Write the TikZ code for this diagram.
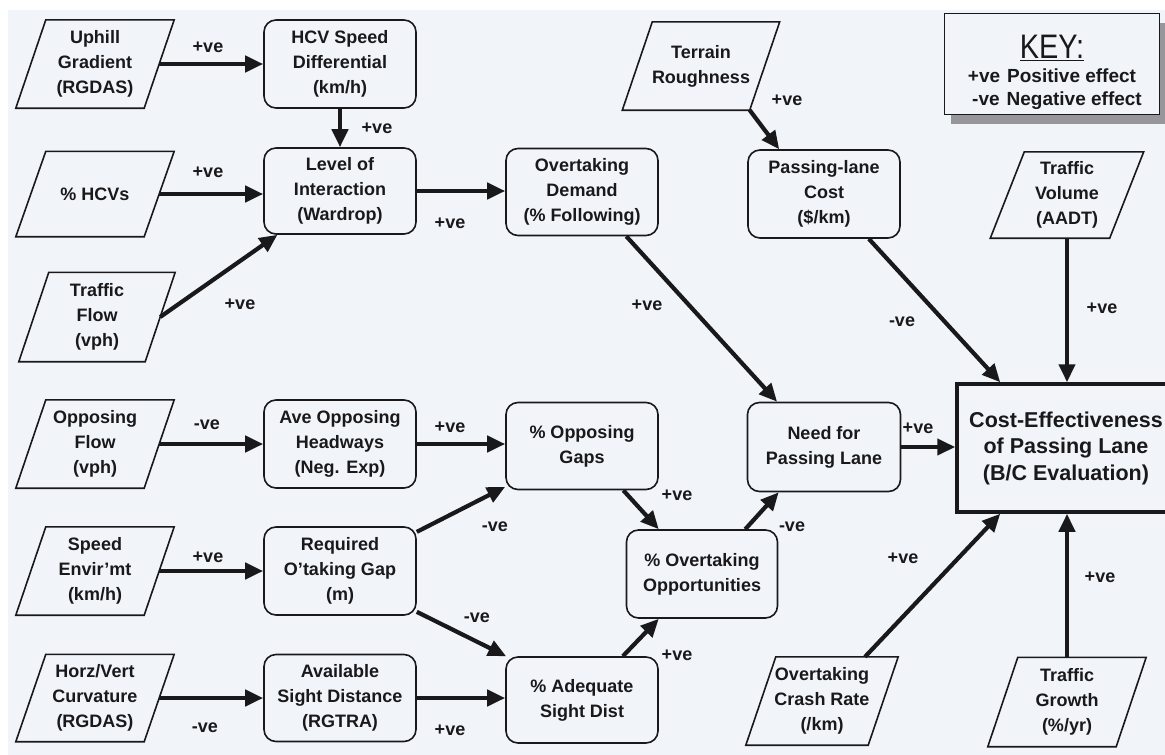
\documentclass[tikz,border=0pt]{standalone}
\usepackage{fontspec}
\usepackage{graphicx}
\setmainfont{Liberation Sans}
\usetikzlibrary{arrows.meta,calc,shadows}
\definecolor{bgc}{RGB}{241,245,249}
\definecolor{inkc}{RGB}{25,25,28}
\definecolor{shadc}{RGB}{150,150,155}
\newcommand\bxfont{\bfseries\fontsize{18}{25}\selectfont}
\newcommand\bigbxfont{\bfseries\fontsize{21.5}{26.5}\selectfont}
\newcommand\parag[2][15]{\draw[pline] ($(#2.south west)+(-#1,0)$) -- ($(#2.north west)+(#1,0)$) -- ($(#2.north east)+(#1,0)$) -- ($(#2.south east)+(-#1,0)$) -- cycle;}
\begin{document}
\begin{tikzpicture}[x=1pt,y=-1pt,
  every node/.style={text=inkc},
  rbox/.style={draw=inkc, line width=1.6pt, rounded corners=12pt, align=center, inner sep=0pt, font=\bxfont, minimum width=152pt, minimum height=88pt},
  pbox/.style={align=center, inner sep=0pt, font=\bxfont, minimum width=128pt, minimum height=88pt},
  pline/.style={draw=inkc, line width=1.6pt, line join=miter},
  arr/.style={draw=inkc, line width=4.2pt, -{Triangle[length=18pt,width=16pt]}},
  lbl/.style={font=\bxfont, inner sep=0pt}]
\useasboundingbox (0,0) rectangle (1165,755);
\fill[white] (0,0) rectangle (1165,755);
\fill[bgc] (8,10) rectangle (1165,755);

% left column inputs
\node[pbox] (uphill) at (95,64) {Uphill\\Gradient\\(RGDAS)};
\node[pbox, minimum height=85pt] (hcvs) at (95,194) {\% HCVs};
\node[pbox, minimum width=126pt, minimum height=89pt] (flow) at (97,317) {Traffic\\Flow\\(vph)};
\node[pbox] (oppflow) at (95,444) {Opposing\\Flow\\(vph)};
\node[pbox] (speed) at (95,571) {Speed\\Envir'mt\\(km/h)};
\node[pbox, minimum height=87pt] (curv) at (95,698) {Horz/Vert\\Curvature\\(RGDAS)};
\parag{uphill}\parag{hcvs}\parag{flow}\parag{oppflow}\parag{speed}\parag{curv}

% middle column
\node[rbox] (hcv) at (340,64) {HCV Speed\\Differential\\(km/h)};
\node[rbox, minimum height=86pt] (level) at (340,191) {Level of\\Interaction\\(Wardrop)};
\node[rbox] (ave) at (340,444) {Ave Opposing\\Headways\\(Neg. Exp)};
\node[rbox] (req) at (340,571) {Required\\O'taking Gap\\(m)};
\node[rbox, minimum height=87pt] (avail) at (340,698) {Available\\Sight Distance\\(RGTRA)};

% third column
\node[rbox, minimum height=87pt] (demand) at (582,192) {Overtaking\\Demand\\(\% Following)};
\node[rbox, minimum height=87pt] (gaps) at (582,446) {\% Opposing\\Gaps};
\node[rbox, minimum height=86pt] (adeq) at (582,700) {\% Adequate\\Sight Dist};
\node[rbox, minimum width=151pt] (opps) at (702,574) {\% Overtaking\\Opportunities};

% fourth column
\node[rbox] (cost) at (824,194) {Passing-lane\\Cost\\(\$/km)};
\node[rbox, minimum width=153pt, minimum height=89pt] (need) at (824,447) {Need for\\Passing Lane};
\node[pbox, minimum width=127pt] (terrain) at (701,66) {Terrain\\Roughness};
\node[pbox, minimum width=122pt] (crash) at (822,701) {Overtaking\\Crash Rate\\(/km)};
\parag{terrain}\parag{crash}

% right column
\node[pbox, minimum width=119pt, minimum height=86pt] (volume) at (1067,195) {Traffic\\Volume\\(AADT)};
\node[pbox, minimum width=128pt, minimum height=89pt] (growth) at (1067,702) {Traffic\\Growth\\(\%/yr)};
\parag[17]{volume}\parag{growth}
\node[draw=inkc, line width=3.5pt, minimum width=218pt, minimum height=128pt, inner sep=0pt, align=center, font=\bigbxfont] (main) at (1066,448) {Cost-Effectiveness\\of Passing Lane\\(B/C Evaluation)};

% key
\node[draw=inkc, line width=1.6pt, fill=bgc, minimum width=215pt, minimum height=101pt, inner sep=0pt,
  drop shadow={shadow xshift=6pt, shadow yshift=-9pt, fill=shadc, opacity=1}] (key) at (1052,64) {};
\node[inner sep=0pt] (keyt) at (1052,48) {\scalebox{0.85}[1]{\fontsize{34}{34}\selectfont\underline{KEY:}}};
\node[lbl, font=\bfseries\fontsize{19}{22}\selectfont] (keyp) at (1052,76) {+ve\hspace{7pt}Positive effect};
\node[lbl, font=\bfseries\fontsize{19}{22}\selectfont] (keyn) at (1057,101) {-ve\hspace{7pt}Negative effect};

% connectors
\draw[arr] (uphill.east) -- (hcv.west);
\draw[arr] (hcv.south) -- (level.north);
\draw[arr] (hcvs.east) -- (hcvs.east -| level.west);
\draw[arr] (flow.east) -- (level.215);
\draw[arr] (level.east) -- (level.east -| demand.west);
\draw[arr] (demand.-45) -- (need.136);
\draw[arr] ($(terrain.south east)+(-15,0)$) -- (cost.135);
\draw[arr] (cost.-45) -- (main.135);
\draw[arr] (volume.south) -- (volume.south |- main.north);
\draw[arr] (need.east) -- (need.east -| main.west);
\draw[arr] (oppflow.east) -- (ave.west);
\draw[arr] (ave.east) -- (ave.east -| gaps.west);
\draw[arr] (req.27) -- (gaps.208);
\draw[arr] (req.-28) -- (adeq.150);
\draw[arr] (gaps.-47) -- (opps.134);
\draw[arr] (adeq.47) -- (opps.226);
\draw[arr] (opps.46) -- (need.225);
\draw[arr] (speed.east) -- (req.west);
\draw[arr] (curv.east) -- (avail.west);
\draw[arr] (avail.east) -- (avail.east -| adeq.west);
\draw[arr] ($(crash.north)+(43,0)$) -- (main.225);
\draw[arr] (growth.north) -- (growth.north |- main.south);

% labels
\node[lbl] (l1) at (208,47) {+ve};
\node[lbl] (l2) at (377,128) {+ve};
\node[lbl] (l3) at (208,172) {+ve};
\node[lbl] (l4) at (240,304) {+ve};
\node[lbl] (l5) at (450,223) {+ve};
\node[lbl] (l6) at (647,305) {+ve};
\node[lbl] (l7) at (787,100) {+ve};
\node[lbl] (l8) at (902,322) {-ve};
\node[lbl] (l9) at (1102,308) {+ve};
\node[lbl] (l10) at (918,428) {+ve};
\node[lbl] (l11) at (207,425) {-ve};
\node[lbl] (l12) at (450,427) {+ve};
\node[lbl] (l13) at (495,527) {-ve};
\node[lbl] (l14) at (477,618) {-ve};
\node[lbl] (l15) at (677,495) {+ve};
\node[lbl] (l16) at (677,655) {+ve};
\node[lbl] (l17) at (792,527) {-ve};
\node[lbl] (l18) at (208,557) {+ve};
\node[lbl] (l19) at (205,728) {-ve};
\node[lbl] (l20) at (450,730) {+ve};
\node[lbl] (l21) at (903,558) {+ve};
\node[lbl] (l22) at (1100,577) {+ve};
\end{tikzpicture}
\end{document}
